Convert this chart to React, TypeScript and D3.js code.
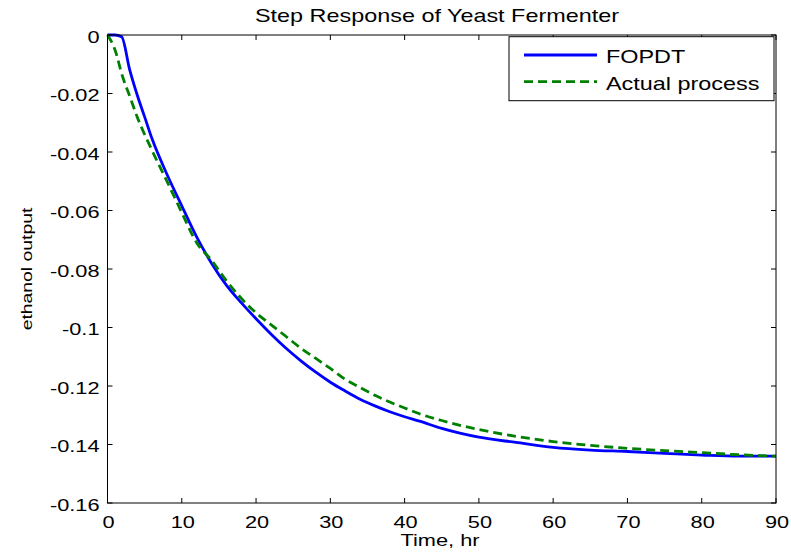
import { useEffect, useRef } from 'react'
import * as d3 from 'd3'

// FOPDT model response
const fopdtTime = [0, 1, 1.9, 3, 4, 5, 6, 8, 10, 12, 14, 16, 18, 20, 22, 24, 26, 28, 30, 32, 34, 36, 38, 40, 42, 45, 50, 55, 60, 65, 70, 75, 80, 85, 90]
const fopdtValue = [0, 0, -0.0006, -0.012, -0.0205, -0.028, -0.0355, -0.0476, -0.0584, -0.069, -0.078, -0.0855, -0.0915, -0.097, -0.1022, -0.107, -0.1113, -0.1152, -0.1187, -0.1217, -0.1245, -0.1268, -0.1288, -0.1305, -0.132, -0.1345, -0.1375, -0.1393, -0.141, -0.1419, -0.1424, -0.143, -0.1436, -0.144, -0.144]

// actual process response
const actualTime = [0, 1, 2, 3, 4, 6, 8, 10, 12, 14, 16, 18, 20, 22, 24, 26, 28, 30, 32, 34, 36, 38, 40, 42, 45, 50, 55, 60, 65, 70, 75, 80, 85, 90]
const actualValue = [0, -0.005, -0.014, -0.021, -0.028, -0.0395, -0.05, -0.0607, -0.071, -0.077, -0.084, -0.09, -0.095, -0.099, -0.103, -0.107, -0.1105, -0.114, -0.1177, -0.1205, -0.1232, -0.1255, -0.1275, -0.1295, -0.1318, -0.1349, -0.1372, -0.139, -0.1403, -0.1413, -0.1421, -0.1428, -0.1435, -0.144]

const xTicks = [0, 10, 20, 30, 40, 50, 60, 70, 80, 90]
const yTicks = [0, -0.02, -0.04, -0.06, -0.08, -0.1, -0.12, -0.14, -0.16]
const yTickLabels = ['0', '-0.02', '-0.04', '-0.06', '-0.08', '-0.1', '-0.12', '-0.14', '-0.16']

const seriesNames = ['FOPDT', 'Actual process']
const seriesColors = ['#0000ff', '#008000']
const seriesDash = ['none', '9,5']

const FONT = 'Liberation Sans, Arial, sans-serif'

export default function App() {
  const ref = useRef<SVGSVGElement>(null)

  useEffect(() => {
    if (!ref.current) return
    const svg = d3.select(ref.current)
    svg.selectAll('*').remove()

    const left = 107.5, right = 776, top = 35, bottom = 503
    const x = d3.scaleLinear().domain([0, 90]).range([left, right])
    const y = d3.scaleLinear().domain([-0.16, 0]).range([bottom, top])

    svg.append('rect').attr('width', 791).attr('height', 560).attr('fill', 'white')

    // stretched text helper (the original is widened horizontally)
    const label = (g: any, tx: number, ty: number, txt: string, size: number, sx: number, anchor: string, rot = 0) => {
      g.append('text')
        .attr('transform', `translate(${tx},${ty}) rotate(${rot}) scale(${sx},1)`)
        .attr('text-anchor', anchor)
        .style('font-family', FONT)
        .style('font-size', `${size}px`)
        .style('fill', '#000')
        .text(txt)
    }

    // data lines
    const line = d3.line<[number, number]>()
      .x(d => x(d[0]))
      .y(d => y(d[1]))
      .curve(d3.curveMonotoneX)

    const series = [
      d3.zip(fopdtTime, fopdtValue) as [number, number][],
      d3.zip(actualTime, actualValue) as [number, number][],
    ]
    series.forEach((pts, i) => {
      svg.append('path')
        .datum(pts)
        .attr('d', line)
        .attr('fill', 'none')
        .attr('stroke', seriesColors[i])
        .attr('stroke-width', 2.8)
        .attr('stroke-dasharray', seriesDash[i])
        .attr('stroke-linejoin', 'round')
    })

    // axes box
    svg.append('rect')
      .attr('x', left).attr('y', top)
      .attr('width', right - left).attr('height', bottom - top)
      .attr('fill', 'none').attr('stroke', '#000').attr('stroke-width', 1)

    const tl = 5
    xTicks.forEach(t => {
      const px = x(t)
      svg.append('line').attr('x1', px).attr('x2', px).attr('y1', bottom).attr('y2', bottom - tl).attr('stroke', '#000')
      svg.append('line').attr('x1', px).attr('x2', px).attr('y1', top).attr('y2', top + tl).attr('stroke', '#000')
      label(svg, px + 1, 528, String(t), 17, 1.28, 'middle')
    })
    yTicks.forEach((t, i) => {
      const py = y(t)
      svg.append('line').attr('x1', left).attr('x2', left + tl).attr('y1', py).attr('y2', py).attr('stroke', '#000')
      svg.append('line').attr('x1', right).attr('x2', right - tl).attr('y1', py).attr('y2', py).attr('stroke', '#000')
      label(svg, 99.5, py + 7.5, yTickLabels[i], 17, 1.28, 'end')
    })

    // titles
    label(svg, 437, 21.7, 'Step Response of Yeast Fermenter', 18, 1.3, 'middle')
    label(svg, 440, 545.5, 'Time, hr', 17, 1.28, 'middle')
    // rotated label: scale applies along text direction
    svg.append('text')
      .attr('transform', `translate(31.5,${(top + bottom) / 2}) rotate(-90) scale(1.29,1)`)
      .attr('text-anchor', 'middle')
      .style('font-family', FONT)
      .style('font-size', '15px')
      .text('ethanol output')

    // legend
    const lg = svg.append('g')
    lg.append('rect')
      .attr('x', 509).attr('y', 36.7)
      .attr('width', 265).attr('height', 64)
      .attr('fill', 'white').attr('stroke', '#000').attr('stroke-width', 1)
    seriesNames.forEach((name, i) => {
      const ly = 55 + i * 26.7
      lg.append('line')
        .attr('x1', 524).attr('x2', 597)
        .attr('y1', ly).attr('y2', ly)
        .attr('stroke', seriesColors[i])
        .attr('stroke-width', 2.8)
        .attr('stroke-dasharray', seriesDash[i])
      label(lg, 606, ly + 8, name, 18, 1.3, 'start')
    })
  }, [])

  return (
    <svg ref={ref} width={791} height={560} style={{ position: 'absolute', left: 0, top: 0 }} />
  )
}
